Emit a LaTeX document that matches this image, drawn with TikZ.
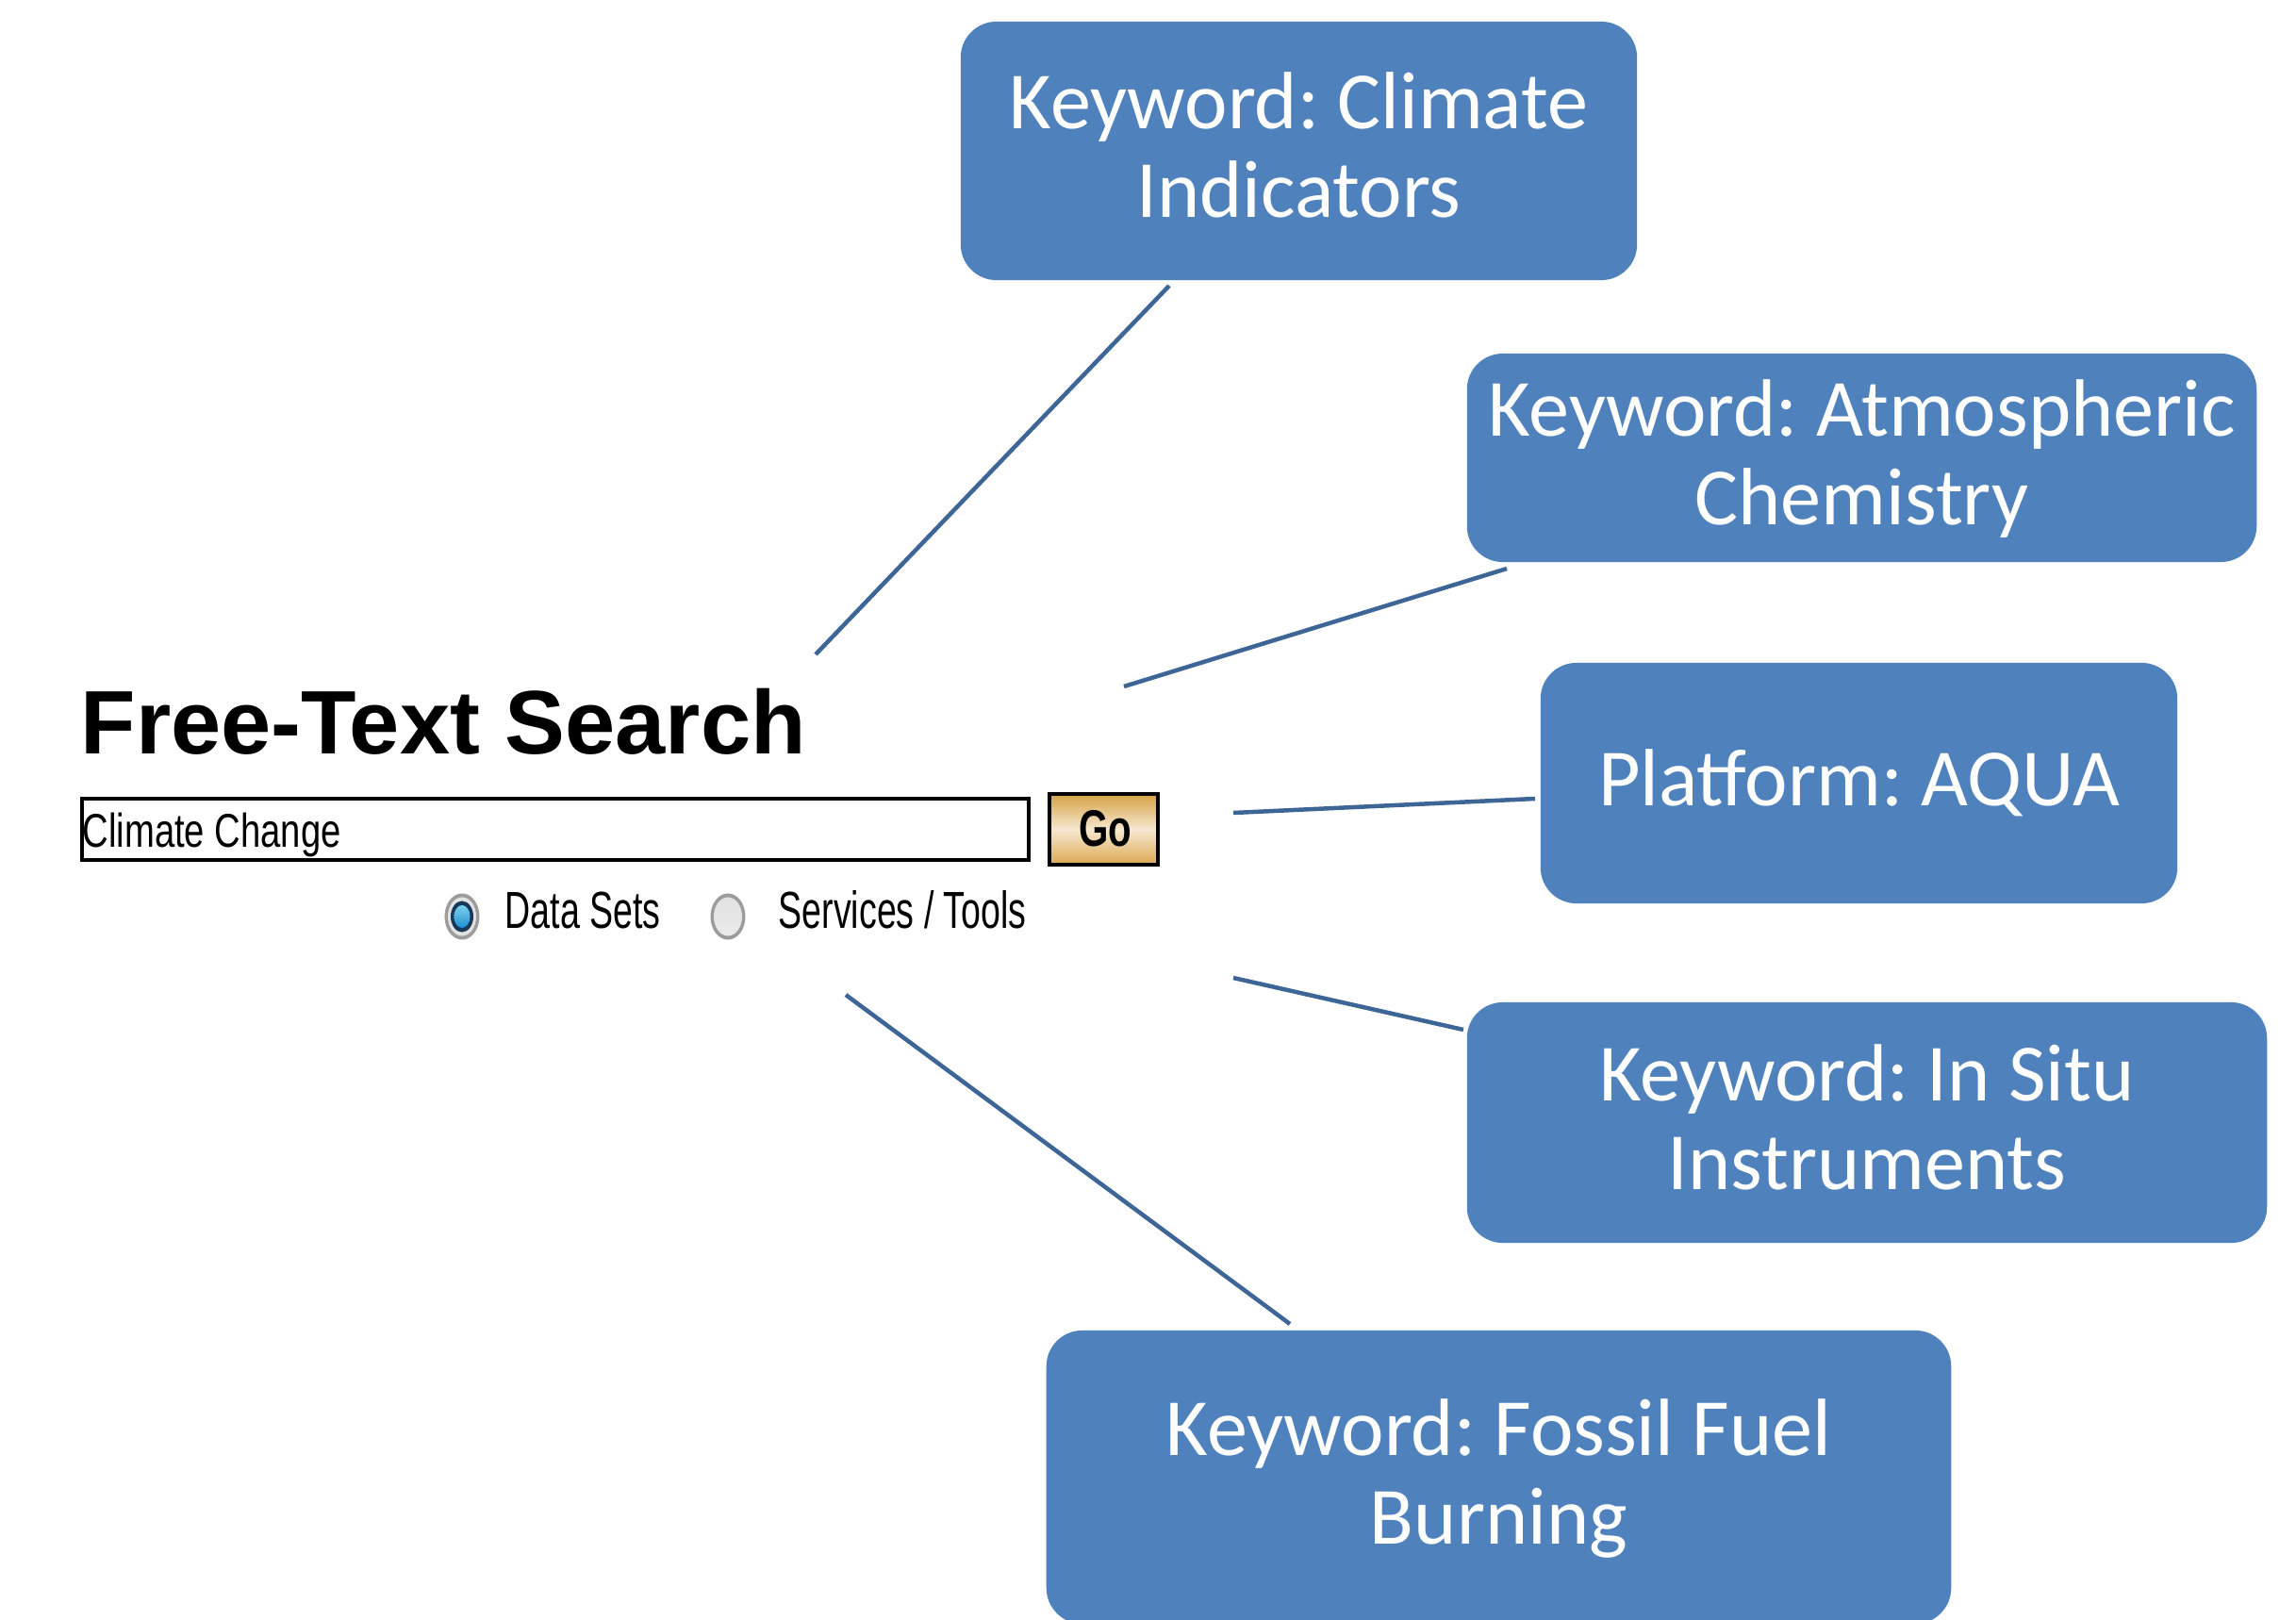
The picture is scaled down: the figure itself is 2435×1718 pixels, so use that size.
\documentclass[tikz,border=0pt]{standalone}
\usepackage{fontspec}
\setmainfont{Carlito}
\newfontfamily\headfont{Liberation Sans}
\newfontfamily\fieldfont[FakeStretch=0.76]{Liberation Sans}
\newfontfamily\gofont[FakeStretch=0.74]{Liberation Sans}
\newfontfamily\radiofont[FakeStretch=0.68]{Liberation Sans}
\frenchspacing
\newcommand\topstrut{\rule{0pt}{0.76cm}\strut}
\definecolor{boxblue}{HTML}{4F81BD}
\definecolor{linkblue}{HTML}{3D6696}
\definecolor{goldtop}{HTML}{D4A043}
\definecolor{goldmid}{HTML}{F7E8D0}
\definecolor{goldbot}{HTML}{DBA851}
\definecolor{ringgrey}{HTML}{9C9C9C}
\definecolor{ringlight}{HTML}{E2E2E2}
\definecolor{dotdark}{HTML}{17395A}
\definecolor{dotblue}{HTML}{1E8FD2}
\definecolor{dotlight}{HTML}{7FD0EE}
\begin{document}
\begin{tikzpicture}[x=0.01cm,y=-0.01cm,
  kbox/.style={rectangle, rounded corners=0.38cm, fill=boxblue, text=white,
    align=center, inner sep=0pt, font=\fontsize{24.5}{26.7}\selectfont},
  link/.style={draw=linkblue, line width=1.28pt},
  uitext/.style={inner sep=0pt, anchor=base west, text=black}]
\useasboundingbox (0,0) rectangle (2435,1718);
\clip (0,0) rectangle (2435,1718);

% keyword boxes
\node[kbox, minimum width=7.17cm, minimum height=2.74cm] (b1) at (1377.5,160)
  {\topstrut Keyword: Climate\\\strut Indicators};
\node[kbox, minimum width=8.37cm, minimum height=2.21cm] (b2) at (1974.5,485.5)
  {\topstrut Keyword: Atmospheric\\\strut Chemistry};
\node[kbox, minimum width=6.75cm, minimum height=2.55cm] (b3) at (1971.5,830.5)
  {\topstrut Platform: AQUA};
\node[kbox, minimum width=8.48cm, minimum height=2.55cm] (b4) at (1980,1190.5)
  {\topstrut Keyword: In Situ\\\strut Instruments};
\node[kbox, minimum width=9.59cm, minimum height=3.11cm] (b5) at (1589.5,1566.5)
  {\topstrut Keyword: Fossil Fuel\\\strut Burning};

% connector end points
\coordinate (l1a) at (865,694);  \coordinate (l1b) at (1240,303);
\coordinate (l2a) at (1192,728); \coordinate (l2b) at (1598,603);
\coordinate (l3a) at (1308,862); \coordinate (l3b) at (1628,847);
\coordinate (l4a) at (1308,1037);\coordinate (l4b) at (1552,1092);
\coordinate (l5a) at (897,1055); \coordinate (l5b) at (1368,1404);
\draw[link] (l1a) -- (l1b);
\draw[link] (l2a) -- (l2b);
\draw[link] (l3a) -- (l3b);
\draw[link] (l4a) -- (l4b);
\draw[link] (l5a) -- (l5b);

% heading
\node[uitext, font=\headfont\bfseries\fontsize{27.2}{30}\selectfont] (head) at (85,799) {Free-Text Search};

% search field
\draw[black, line width=1.14pt, fill=white] (87,847) rectangle (1091,912);
\node[uitext, font=\fieldfont\fontsize{14.3}{16}\selectfont] (field) at (87,898) {Climate Change};

% Go button
\shade[top color=goldtop, bottom color=goldbot, middle color=goldmid] (1113,842) rectangle (1228,917);
\draw[black, line width=1.14pt] (1113,842) rectangle (1228,917);
\node[inner sep=0pt, anchor=base, text=black, font=\gofont\bfseries\fontsize{15.5}{17}\selectfont] (go) at (1172.5,897) {Go};

% radio buttons
\fill[ringgrey] (490,972) ellipse [x radius=0.185cm, y radius=0.245cm];
\fill[ringlight] (490,972) ellipse [x radius=0.15cm, y radius=0.205cm];
\fill[dotdark] (490,972) ellipse [x radius=0.12cm, y radius=0.165cm];
\shade[top color=dotlight, bottom color=dotblue] (490,972) ellipse [x radius=0.085cm, y radius=0.12cm];
\node[uitext, font=\radiofont\fontsize{15.7}{17}\selectfont] (ds) at (535,984) {Data Sets};

\fill[ringgrey] (772,972) ellipse [x radius=0.185cm, y radius=0.245cm];
\shade[top color=ringlight, bottom color=white!92!black] (772,972) ellipse [x radius=0.15cm, y radius=0.205cm];
\node[uitext, font=\radiofont\fontsize{15.7}{17}\selectfont] (st) at (825,984) {Services / Tools};
\end{tikzpicture}
\end{document}
